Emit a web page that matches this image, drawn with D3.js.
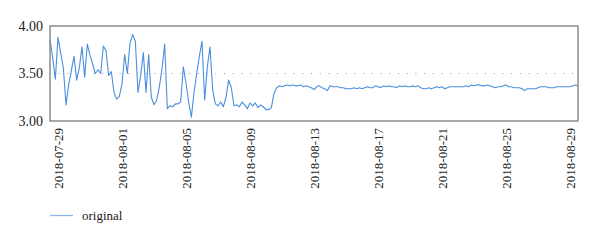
<!DOCTYPE html>
<html><head><meta charset="utf-8">
<script src="https://cdn.jsdelivr.net/npm/d3@7"></script>
<style>body{margin:0;background:#fff}svg{display:block}</style>
</head><body><svg id="c" width="600" height="244"></svg>
<script>
const values = [
3.85,3.67,3.44,3.88,3.72,3.56,3.17,3.38,3.53,3.68,
3.43,3.56,3.78,3.46,3.81,3.69,3.60,3.50,3.54,3.50,
3.79,3.74,3.48,3.52,3.30,3.23,3.26,3.39,3.70,3.50,
3.82,3.91,3.84,3.30,3.48,3.72,3.30,3.70,3.25,3.17,
3.22,3.36,3.55,3.81,3.13,3.16,3.15,3.18,3.18,3.20,
3.57,3.40,3.20,3.04,3.30,3.50,3.68,3.84,3.22,3.57,
3.78,3.33,3.18,3.16,3.20,3.15,3.25,3.43,3.35,3.16,
3.17,3.15,3.20,3.17,3.13,3.19,3.16,3.19,3.14,3.17,
3.15,3.12,3.12,3.14,3.29,3.35,3.37,3.36,3.37,3.38,
3.37,3.38,3.37,3.37,3.38,3.36,3.37,3.36,3.35,3.33,
3.36,3.37,3.35,3.34,3.32,3.37,3.36,3.36,3.36,3.35,
3.35,3.34,3.34,3.34,3.35,3.34,3.35,3.34,3.35,3.36,
3.35,3.35,3.37,3.36,3.35,3.37,3.36,3.37,3.36,3.36,
3.35,3.37,3.36,3.37,3.36,3.36,3.37,3.36,3.37,3.35,
3.34,3.34,3.35,3.34,3.35,3.36,3.35,3.36,3.34,3.35,
3.36,3.36,3.36,3.36,3.36,3.36,3.37,3.36,3.38,3.37,
3.38,3.38,3.37,3.37,3.38,3.37,3.36,3.35,3.36,3.36,
3.37,3.38,3.36,3.36,3.35,3.35,3.35,3.34,3.32,3.34,
3.34,3.34,3.34,3.35,3.36,3.36,3.36,3.35,3.35,3.35,
3.36,3.36,3.36,3.36,3.36,3.36,3.37,3.38,3.37
];
const tickIndex = [3,27,51,75,99,123,147,171,195];
const tickLabels = ["2018-07-29","2018-08-01","2018-08-05","2018-08-09","2018-08-13","2018-08-17","2018-08-21","2018-08-25","2018-08-29"];
const yTicks = [3.0,3.5,4.0];
const refValue = 3.5;
const seriesName = "original";

const svg = d3.select("#c");
const L=50,R=578,T=26,B=121;
const x = d3.scaleLinear().domain([0, values.length-1]).range([L,R]);
const y = d3.scaleLinear().domain([3,4]).range([B,T]);
const font = "'Liberation Serif','Times New Roman',serif";
const col = "#4a8ede";

// reference dotted line
svg.append("line").attr("x1",L).attr("x2",R).attr("y1",y(refValue)).attr("y2",y(refValue))
  .attr("stroke","#999").attr("stroke-width",1).attr("stroke-dasharray","1,7.7");

// series
svg.append("path").datum(values)
  .attr("fill","none").attr("stroke",col).attr("stroke-width",1.1).attr("stroke-linejoin","round")
  .attr("d", d3.line().x((d,i)=>x(i)).y(d=>y(d)));

// frame
svg.append("rect").attr("x",L).attr("y",T).attr("width",R-L).attr("height",B-T)
  .attr("fill","none").attr("stroke","#7a7a7a").attr("stroke-width",1.3);

// y axis
const ya = svg.append("g").attr("transform",`translate(${L},0)`)
  .call(d3.axisLeft(y).tickValues(yTicks).tickFormat(d3.format(".2f")).tickSize(0).tickPadding(7));
ya.select(".domain").remove();
ya.selectAll("text").attr("font-family",font).attr("font-size",14).attr("fill","#222");

// x axis
const xa = svg.append("g").attr("transform",`translate(0,${B})`)
  .call(d3.axisBottom(x).tickValues(tickIndex).tickFormat((d,i)=>tickLabels[i]).tickSize(0).tickPadding(7));
xa.select(".domain").remove();
xa.selectAll("text").attr("font-family",font).attr("font-size",13).attr("fill","#222")
  .attr("text-anchor","end").attr("transform","rotate(-90)").attr("dx","-7").attr("dy","0.32em").attr("y",0);

// legend
const lg = svg.append("g");
lg.append("line").attr("x1",50).attr("x2",73).attr("y1",215.5).attr("y2",215.5).attr("stroke","#8fb6ea").attr("stroke-width",1.3);
lg.append("text").attr("x",82).attr("y",220).attr("font-family",font).attr("font-size",13).attr("fill","#222").text(seriesName);
</script></body></html>
